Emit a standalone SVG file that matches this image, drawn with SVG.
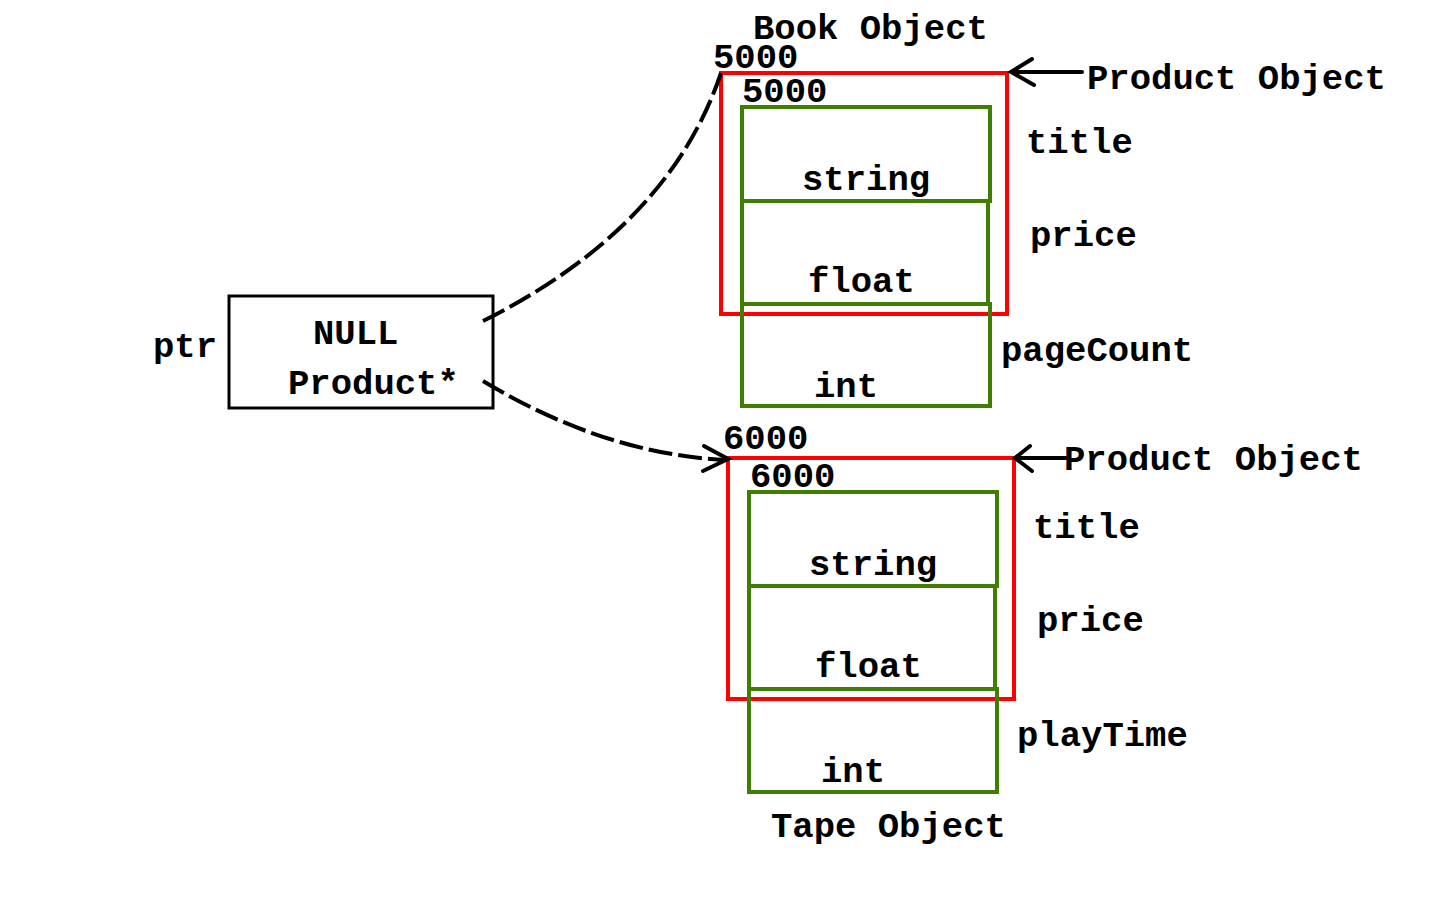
<svg xmlns="http://www.w3.org/2000/svg" width="1440" height="900" viewBox="0 0 1440 900">
<style>
text{font-family:"Liberation Mono","Courier New",monospace;font-weight:bold;font-size:35.6px;fill:#000}
.red{fill:none;stroke:#ff0000;stroke-width:4}
.grn{fill:none;stroke:#3f7e00;stroke-width:4}
.box{fill:none;stroke:#000;stroke-width:3}
.dash{fill:none;stroke:#000;stroke-width:4;stroke-dasharray:24 6}
.arr{fill:none;stroke:#000;stroke-width:4;stroke-linecap:round}
</style>
<rect width="1440" height="900" fill="#fff"/>
<g id="ptr">
<rect class="box" x="229" y="296" width="264" height="112"/>
<text x="153" y="357">ptr</text>
<text x="313" y="344">NULL</text>
<text x="288" y="394">Product*</text>
</g>
<g id="book">
<text x="753" y="39">Book Object</text>
<text x="713" y="68">5000</text>
<rect class="red" x="721" y="73" width="286" height="241"/>
<text x="742" y="102">5000</text>
<rect class="grn" x="742" y="107" width="248" height="94"/>
<rect class="grn" x="742" y="201" width="246" height="103"/>
<rect class="grn" x="742" y="304" width="248" height="102"/>
<text x="802" y="190">string</text>
<text x="808" y="292">float</text>
<text x="814" y="397">int</text>
<text x="1026" y="153">title</text>
<text x="1030" y="246">price</text>
<text x="1001" y="361">pageCount</text>
<text x="1087" y="89">Product Object</text>
</g>
<g id="tape">
<text x="723" y="449">6000</text>
<rect class="red" x="728" y="458" width="286" height="241"/>
<text x="750" y="487">6000</text>
<rect class="grn" x="749" y="492" width="248" height="94"/>
<rect class="grn" x="749" y="586" width="246" height="103"/>
<rect class="grn" x="749" y="689" width="248" height="103"/>
<text x="809" y="575">string</text>
<text x="815" y="677">float</text>
<text x="821" y="782">int</text>
<text x="1033" y="538">title</text>
<text x="1037" y="631">price</text>
<text x="1017" y="746">playTime</text>
<text x="771" y="837">Tape Object</text>
<text x="1064" y="470">Product Object</text>
</g>
<g id="connectors">
<path class="dash" d="M483,321 Q669,228 721,73"/>
<path class="dash" d="M483,381 Q604,454 726,460"/>
<path class="arr" d="M704,446 L728,459 L703,471"/>
<path class="arr" d="M1082,72 L1011,72 M1032,59 L1011,72 L1034,85"/>
<path class="arr" d="M1066,458 L1016,458 M1030,446 L1015,458 L1032,471"/>
</g>
</svg>
